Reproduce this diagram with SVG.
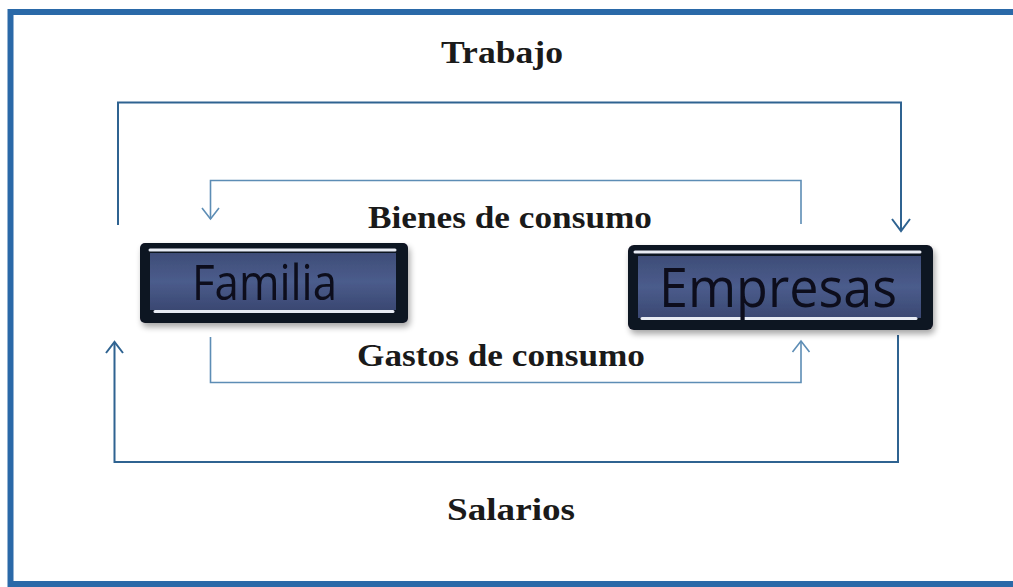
<svg xmlns="http://www.w3.org/2000/svg" width="1013" height="587" viewBox="0 0 1013 587">
<defs>
<style>
.lbl{font-family:"Liberation Serif","Times New Roman",serif;font-weight:bold;font-size:32px;fill:#1a1a1a;text-anchor:middle}
.nd{font-family:"Open Sans","Noto Sans",sans-serif;fill:#0d0f1c}
.outer{fill:none;stroke:#2f6391;stroke-width:2}
.inner{fill:none;stroke:#5d8db5;stroke-width:1.6}
.hl{stroke:#e8ecf4;stroke-width:3;stroke-linecap:round}
</style>
<linearGradient id="panel" x1="0" y1="0" x2="0" y2="1">
<stop offset="0" stop-color="#3e4d78"/>
<stop offset="0.5" stop-color="#4b5c8c"/>
<stop offset="1" stop-color="#3a4872"/>
</linearGradient>
<filter id="sh" x="-10%" y="-20%" width="120%" height="150%">
<feGaussianBlur in="SourceAlpha" stdDeviation="3"/>
<feOffset dx="2" dy="4"/>
<feComponentTransfer><feFuncA type="linear" slope="0.35"/></feComponentTransfer>
<feMerge><feMergeNode/><feMergeNode in="SourceGraphic"/></feMerge>
</filter>
</defs>
<rect x="0" y="0" width="1013" height="587" fill="#ffffff"/>
<rect x="10.5" y="12" width="1012" height="572" fill="none" stroke="#2a69a8" stroke-width="6"/>

<text class="lbl" x="502" y="63" textLength="122" lengthAdjust="spacingAndGlyphs">Trabajo</text>
<text class="lbl" x="510" y="228" textLength="284" lengthAdjust="spacingAndGlyphs">Bienes de consumo</text>
<text class="lbl" x="501" y="366" textLength="288" lengthAdjust="spacingAndGlyphs">Gastos de consumo</text>
<text class="lbl" x="511" y="520" textLength="128" lengthAdjust="spacingAndGlyphs">Salarios</text>

<g id="connectors">
<polyline class="outer" points="118,225 118,102.5 901,102.5 901,231"/>
<polyline class="outer" points="892,219 901,231 910,219"/>
<polyline class="inner" points="801,224 801,180.5 210.5,180.5 210.5,219"/>
<polyline class="inner" points="202,208 210.5,219 219,208"/>
<polyline class="inner" points="210.5,337 210.5,382.5 801,382.5 801,341"/>
<polyline class="inner" points="792.5,352 801,341 809.5,352"/>
<polyline class="outer" points="898,335 898,462 114.5,462 114.5,342"/>
<polyline class="outer" points="106,353 114.5,342 123,353"/>
</g>

<g id="familia" filter="url(#sh)">
<rect x="140" y="243" width="268" height="80" rx="5" fill="#0c1220"/>
<rect x="150" y="253" width="246" height="57" fill="url(#panel)"/>
<line class="hl" x1="150" y1="250" x2="395" y2="250"/>
<line class="hl" x1="155" y1="311.5" x2="393" y2="311.5"/>
<text class="nd" x="264.5" y="300" font-size="50" text-anchor="middle" textLength="145" lengthAdjust="spacingAndGlyphs">Familia</text>
</g>

<g id="empresas" filter="url(#sh)">
<rect x="628" y="245" width="305" height="85" rx="6" fill="#0c1220"/>
<rect x="638" y="256" width="283" height="62" fill="url(#panel)"/>
<line class="hl" x1="635" y1="252" x2="920" y2="252"/>
<line class="hl" x1="642" y1="318.5" x2="916" y2="318.5"/>
<text class="nd" x="778" y="307" font-size="55" text-anchor="middle" textLength="238" lengthAdjust="spacingAndGlyphs">Empresas</text>
</g>
</svg>
